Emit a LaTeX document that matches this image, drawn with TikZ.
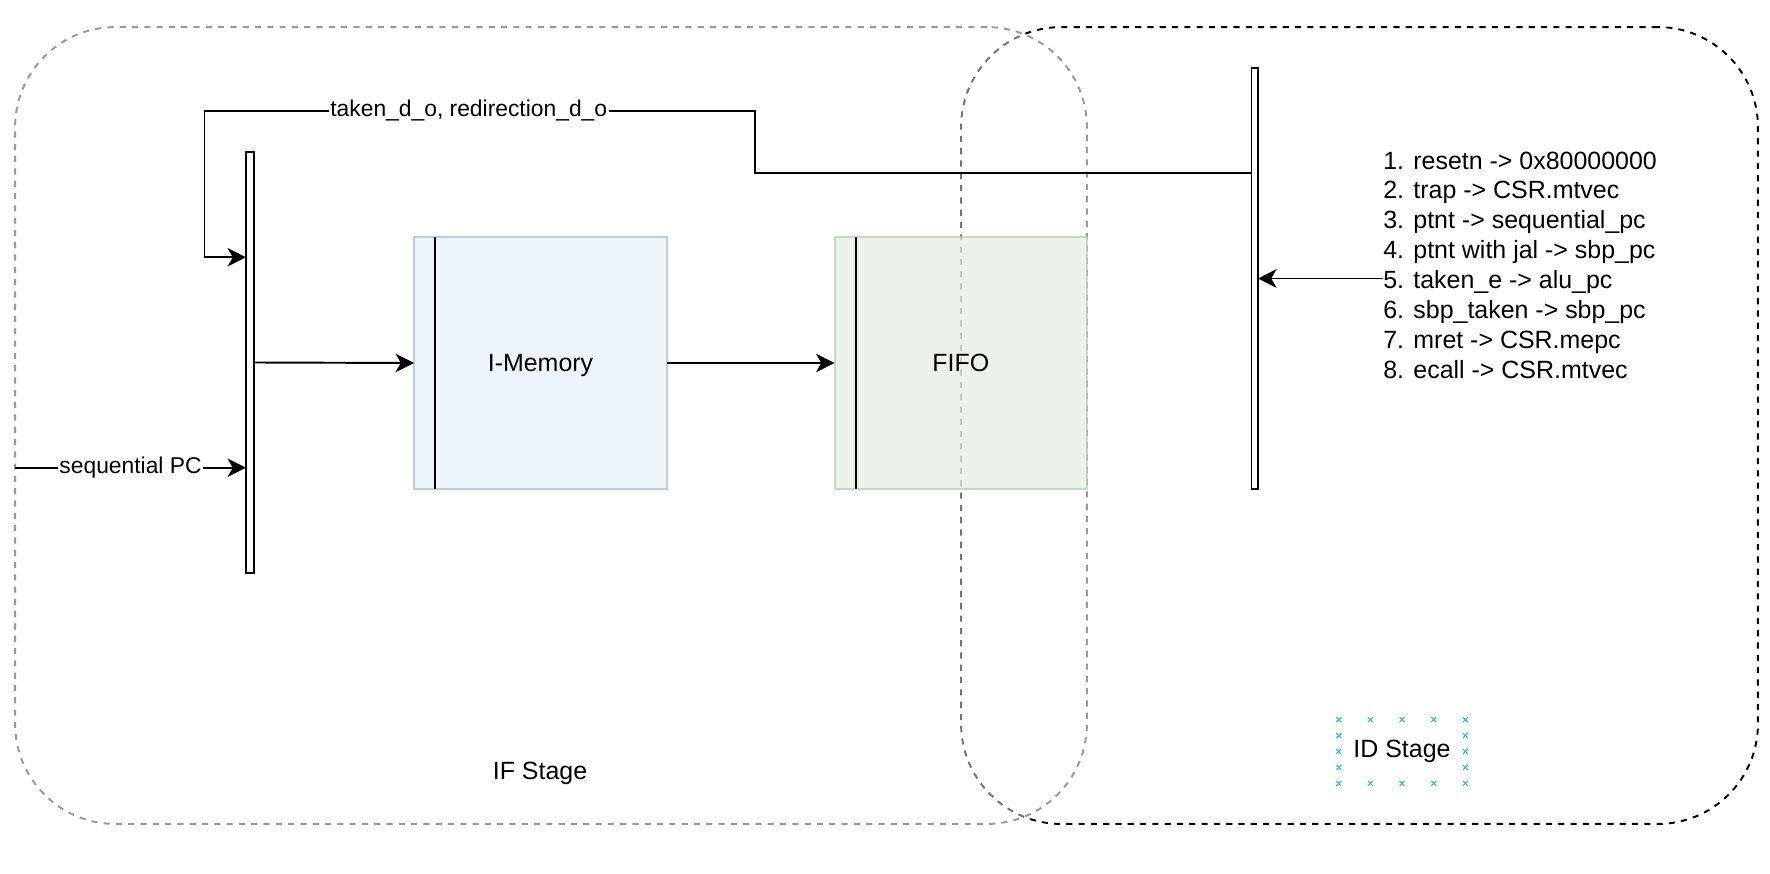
\documentclass[tikz,border=0pt]{standalone}
\usepackage{fontspec}
\setmainfont{Liberation Sans}
\usetikzlibrary{arrows.meta,calc,positioning}

\definecolor{memfill}{HTML}{EDF4FC}
\definecolor{memline}{HTML}{B9CDE7}
\definecolor{fifofill}{HTML}{E4EEE1}
\definecolor{fifoline}{HTML}{ABD0A4}
\definecolor{ifgray}{HTML}{999999}
\definecolor{handleblue}{HTML}{29B6F2}

\tikzset{
  wire/.style={line width=1.1pt, -{Stealth[length=10.5pt,width=10.5pt,inset=3pt]}},
  stagebox/.style={draw, dash pattern=on 3.5pt off 3.5pt, line width=1.1pt,
    rounded corners=57pt, inner sep=0pt, outer sep=0pt, minimum height=15.94cm},
  regbar/.style={draw, fill=white, line width=1.1pt, minimum height=8.42cm,
    inner sep=0pt, outer sep=0pt},
  unitbox/.style={draw, line width=1.1pt, minimum width=5.06cm, minimum height=5.04cm,
    inner sep=0pt, outer sep=0pt, text depth=0pt, font=\fontsize{14.2}{17}\selectfont},
  vtext/.style={inner sep=0pt, font=\fontsize{14.2}{17}\selectfont},
  edgelabel/.style={fill=white, inner sep=1pt, font=\fontsize{13}{15.6}\selectfont},
  handle/.style={draw=handleblue, line width=0.6pt},
}

\begin{document}
\begin{tikzpicture}[x=0.02cm, y=-0.02cm]
  \useasboundingbox (0,0) rectangle (1770,874);

  % pipeline stages
  \node[stagebox, minimum width=15.94cm] (idstage) at (1359.5,425.5) {};
  \node[stagebox, draw=ifgray, fill=white, fill opacity=0.45,
    minimum width=21.44cm] (ifstage) at (551,425.5) {};
  \node[vtext] (iflbl) at (540,773) {IF Stage};
  \node[vtext, minimum width=2.52cm, minimum height=1.26cm] (idlbl) at (1402,751.5) {ID Stage};
  \foreach \t in {0,0.25,0.5,0.75,1} {
    \draw[handle] ($(idlbl.north west)!\t!(idlbl.north east)$)
      +(-1.4pt,-1.4pt) -- +(1.4pt,1.4pt) +(-1.4pt,1.4pt) -- +(1.4pt,-1.4pt);
    \draw[handle] ($(idlbl.south west)!\t!(idlbl.south east)$)
      +(-1.4pt,-1.4pt) -- +(1.4pt,1.4pt) +(-1.4pt,1.4pt) -- +(1.4pt,-1.4pt);
  }
  \foreach \t in {0.25,0.5,0.75} {
    \draw[handle] ($(idlbl.north west)!\t!(idlbl.south west)$)
      +(-1.4pt,-1.4pt) -- +(1.4pt,1.4pt) +(-1.4pt,1.4pt) -- +(1.4pt,-1.4pt);
    \draw[handle] ($(idlbl.north east)!\t!(idlbl.south east)$)
      +(-1.4pt,-1.4pt) -- +(1.4pt,1.4pt) +(-1.4pt,1.4pt) -- +(1.4pt,-1.4pt);
  }

  % blocks
  \node[regbar, minimum width=0.16cm] (pcmux) at (250,362.5) {};
  \node[unitbox, draw=memline, fill=memfill] (imem) at (540.5,363) {I-Memory};
  \node[unitbox, draw=fifoline, fill=fifofill, opacity=0.7, text opacity=1,
    minimum width=5.05cm] (fifo) at (960.75,363) {FIFO};
  \node[regbar, minimum width=0.13cm] (idmux) at (1254.75,278.5) {};
  \draw[line width=1.1pt] ([xshift=0.42cm]imem.north west) -- ([xshift=0.42cm]imem.south west);
  \draw[line width=1.1pt] ([xshift=0.42cm]fifo.north west) -- ([xshift=0.42cm]fifo.south west);

  \node[vtext, anchor=west, align=left] (seltab) at (1383,265) {%
    1. resetn -> 0x80000000\\
    2. trap -> CSR.mtvec\\
    3. ptnt -> sequential\_pc\\
    4. ptnt with jal -> sbp\_pc\\
    5. taken\_e -> alu\_pc\\
    6. sbp\_taken -> sbp\_pc\\
    7. mret -> CSR.mepc\\
    8. ecall -> CSR.mtvec};

  % connections
  \coordinate (fbout) at ($(idmux.north west)!0.25!(idmux.south west)$);
  \coordinate (fbin) at ($(pcmux.north west)!0.25!(pcmux.south west)$);
  \coordinate (seqin) at ($(pcmux.north west)!0.75!(pcmux.south west)$);
  \draw[wire] (fbout) -| (755,110.7)
    -| node[edgelabel, pos=0.26] {taken\_d\_o, redirection\_d\_o} ([xshift=-0.83cm]fbin)
    -- (fbin);
  \draw[wire] (ifstage.west |- seqin) -- node[edgelabel] {sequential PC} (seqin);
  \draw[wire] (pcmux.east) -- (imem.west);
  \draw[wire] (imem.east) -- (fifo.west);
  \draw[wire] (seltab.west |- idmux.east) -- (idmux.east);
\end{tikzpicture}
\end{document}
